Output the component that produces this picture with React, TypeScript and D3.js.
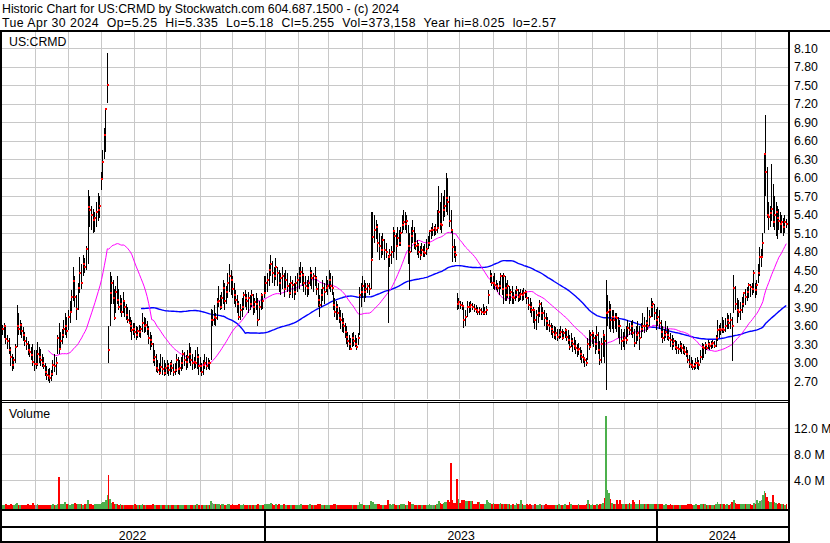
import React from "react";
import * as d3 from "d3";

const headerLine1 = "Historic Chart for US:CRMD by Stockwatch.com 604.687.1500 - (c) 2024";
const headerLine2 = "Tue Apr 30 2024  Op=5.25  Hi=5.335  Lo=5.18  Cl=5.255  Vol=373,158  Year hi=8.025  lo=2.57";
const symbolLabel = "US:CRMD";
const volumeLabel = "Volume";
const priceTicks = [2.7, 3.0, 3.3, 3.6, 3.9, 4.2, 4.5, 4.8, 5.1, 5.4, 5.7, 6.0, 6.3, 6.6, 6.9, 7.2, 7.5, 7.8, 8.1];
const volumeTicks = [4, 8, 12];
const yearLabels = ["2022", "2023", "2024"];

// daily bars grouped by month, May 2022 .. Apr 2024
const highs: number[][] = [
  [3.62,3.65,3.60,3.45,3.40,3.25,3.15,3.10,3.30,3.94,3.80,3.70,3.65,3.58,3.50,3.42,3.35,3.30,3.25,3.30,3.20],
  [3.20,3.34,3.26,3.22,3.15,3.10,2.99,2.95,2.90,2.92,2.88,3.05,3.15,3.10,3.45,3.64,3.50,3.55,3.70,3.80,3.75],
  [3.85,4.00,4.18,4.56,4.40,4.10,4.30,4.72,4.60,4.75,4.70,4.90,5.80,5.70,5.55,5.50,5.45,5.60,5.75,5.70],
  [6.10,6.45,6.80,7.13,8.02,3.59,4.48,4.40,4.35,4.20,4.25,4.40,4.20,4.10,4.05,4.15,4.02,3.95,3.90,3.85,3.75,3.70,3.65],
  [3.64,3.60,3.58,3.62,3.60,3.80,3.75,3.72,3.68,3.59,3.50,3.45,3.32,3.20,3.15,3.05,3.00,3.15,3.10,3.05,3.00],
  [3.05,3.00,3.02,3.05,2.98,3.00,3.15,3.10,3.05,3.10,3.21,3.18,3.12,3.20,3.32,3.25,3.15,3.10,3.20,3.26,3.15],
  [3.10,3.00,3.05,3.15,3.10,3.08,3.05,3.88,3.85,3.93,3.80,4.05,4.24,4.10,4.15,4.35,4.30,4.25,4.45,4.61,4.50],
  [4.40,4.30,4.18,4.10,4.00,3.95,4.05,4.15,4.18,4.12,4.15,4.10,4.18,4.12,4.05,4.13,4.05,4.00,4.13,4.10,4.40],
  [4.40,4.45,4.60,4.75,4.65,4.55,4.70,4.56,4.50,4.45,4.55,4.45,4.50,4.45,4.30,4.40,4.35,4.30,4.40,4.45],
  [4.55,4.64,4.55,4.45,4.40,4.35,4.40,4.56,4.50,4.45,4.55,4.40,4.29,4.10,4.20,4.34,4.30,4.40,4.35],
  [4.50,4.45,4.40,4.15,4.05,4.00,3.95,3.91,3.85,3.80,3.72,3.65,3.59,3.50,3.45,3.40,3.48,3.50,3.45,3.40,3.48,4.23,4.29],
  [4.40,4.35,4.30,4.29,4.30,5.45,5.45,5.40,5.32,5.25,5.10,5.05,5.10,5.00,4.95,4.75,4.85,4.90,5.20],
  [5.15,5.10,5.21,5.15,5.20,5.40,5.48,5.45,5.40,5.24,5.10,5.20,5.32,5.20,5.10,4.99,4.95,4.90,4.94,4.90,4.92,5.00],
  [5.05,5.15,5.20,5.26,5.22,5.25,5.48,5.86,5.60,5.75,5.70,5.80,6.07,6.00,5.70,5.48,5.13,5.00,4.90,4.13,4.05],
  [4.00,3.98,3.90,3.85,4.00,3.98,4.00,3.97,3.95,3.93,3.91,3.90,3.89,3.95,3.90,3.92,4.18,4.51,4.45],
  [4.40,4.45,4.35,4.30,4.32,4.45,4.42,4.45,4.40,4.30,4.35,4.25,4.20,4.24,4.15,4.18,4.24,4.20,4.15,4.20,4.18,4.21,4.18],
  [4.15,4.07,4.05,3.98,3.91,3.88,3.85,3.90,4.02,3.98,3.90,3.85,3.80,3.75,3.70,3.65,3.62,3.60,3.58,3.55],
  [3.55,3.59,3.55,3.52,3.57,3.55,3.53,3.45,3.48,3.40,3.42,3.37,3.30,3.32,3.26,3.20,3.15,3.10,3.08,3.40,3.53,3.50],
  [3.53,3.50,3.45,3.59,3.50,3.35,3.40,3.53,3.45,4.34,4.10,4.00,3.95,3.86,3.85,3.80,3.80,3.75,3.70,3.55,3.50],
  [3.55,3.59,3.69,3.65,3.68,3.69,3.55,3.60,3.67,3.60,3.65,3.80,3.75,3.70,3.91,3.85,4.05,4.00,3.95,3.88],
  [3.91,3.85,3.69,3.60,3.55,3.67,3.60,3.55,3.48,3.45,3.40,3.37,3.35,3.30,3.35,3.32,3.30,3.28,3.26,3.20,3.12],
  [3.10,3.05,3.00,3.08,3.10,3.05,3.20,3.32,3.30,3.34,3.30,3.37,3.33,3.35,3.37,3.36,3.45,3.69,3.62,3.65],
  [3.75,3.70,3.72,3.80,3.78,3.80,3.75,4.42,4.24,4.05,4.02,3.98,4.07,4.15,4.20,4.23,4.29,4.28,4.30,4.50],
  [4.30,4.35,4.60,4.88,4.85,5.10,6.40,7.02,6.17,5.60,5.55,6.23,5.90,5.70,5.60,5.55,5.50,5.45,5.40,5.35,5.40,5.335],
];
const lows: number[][] = [
  [3.45,3.40,3.30,3.22,3.15,2.95,2.86,2.90,3.00,3.26,3.45,3.45,3.40,3.35,3.28,3.20,3.12,3.10,3.05,2.95,2.86],
  [2.90,2.95,3.00,2.95,2.94,2.90,2.78,2.72,2.70,2.67,2.70,2.78,2.85,2.80,3.15,3.15,3.20,3.30,3.40,3.45,3.40],
  [3.54,3.65,3.80,4.00,3.90,3.70,3.85,4.13,4.20,4.40,4.45,4.50,4.60,5.20,5.15,5.10,5.12,5.20,5.30,5.35],
  [5.80,5.96,6.30,6.42,7.22,2.99,3.60,3.95,3.95,3.70,3.80,3.95,3.85,3.80,3.75,3.80,3.75,3.70,3.64,3.64,3.50,3.37,3.45],
  [3.40,3.37,3.40,3.42,3.40,3.50,3.48,3.50,3.45,3.30,3.21,3.25,3.00,2.95,2.85,2.83,2.80,2.85,2.80,2.78,2.80],
  [2.82,2.78,2.80,2.85,2.78,2.80,2.85,2.82,2.80,2.86,2.90,2.95,2.88,2.92,3.00,2.95,2.88,2.90,2.92,2.90,2.80],
  [2.85,2.78,2.80,2.90,2.88,2.90,2.88,3.04,3.60,3.62,3.59,3.70,3.90,3.86,3.88,3.95,3.86,3.95,4.05,4.15,4.10],
  [4.05,3.95,3.90,3.80,3.69,3.70,3.75,3.85,3.90,3.85,3.80,3.85,3.90,3.78,3.80,3.85,3.59,3.70,3.85,3.88,4.05],
  [4.13,4.15,4.25,4.40,4.30,4.24,4.35,4.25,4.15,4.10,4.20,4.07,4.20,4.15,4.05,4.10,4.05,4.02,4.10,4.15],
  [4.20,4.30,4.25,4.15,4.10,4.07,4.10,4.25,4.20,4.15,4.25,4.10,3.90,3.75,3.90,4.00,3.95,4.15,4.10],
  [4.20,4.15,4.10,3.85,3.75,3.70,3.69,3.65,3.55,3.50,3.48,3.40,3.30,3.25,3.21,3.20,3.25,3.28,3.25,3.21,3.29,3.45,3.90],
  [4.05,3.99,4.05,4.13,4.10,4.20,4.70,4.95,5.00,4.80,4.67,4.70,4.75,4.67,4.70,3.64,4.55,4.60,4.70],
  [4.80,4.67,4.90,4.89,4.90,5.10,5.15,5.15,5.10,4.60,4.18,4.80,4.95,4.85,4.83,4.75,4.70,4.67,4.75,4.72,4.72,4.75],
  [4.85,4.89,5.00,5.05,5.05,5.08,5.10,5.20,5.15,5.10,5.30,5.37,5.45,5.40,5.20,5.10,4.64,4.70,4.64,3.86,3.88],
  [3.88,3.85,3.56,3.60,3.75,3.80,3.82,3.85,3.82,3.80,3.78,3.78,3.78,3.78,3.77,3.78,3.96,4.29,4.25],
  [4.20,4.18,4.18,4.15,4.10,4.20,4.10,3.96,4.00,4.00,4.05,3.96,4.00,3.96,3.96,4.00,4.05,3.99,4.00,4.02,4.00,4.02,4.05],
  [3.95,3.85,3.80,3.75,3.65,3.55,3.53,3.65,3.75,3.70,3.69,3.60,3.53,3.53,3.50,3.45,3.40,3.38,3.37,3.35],
  [3.38,3.40,3.37,3.38,3.40,3.35,3.30,3.20,3.25,3.18,3.20,3.15,3.10,3.12,3.05,3.00,2.99,2.94,2.95,3.05,3.21,3.25],
  [3.30,3.25,3.15,3.20,3.15,2.96,3.00,3.10,2.99,2.56,3.60,3.55,3.50,3.55,3.48,3.55,3.50,3.40,3.30,3.21,3.25],
  [3.21,3.30,3.42,3.45,3.45,3.40,3.26,3.30,3.35,3.21,3.40,3.50,3.48,3.50,3.53,3.60,3.75,3.75,3.70,3.53],
  [3.60,3.55,3.40,3.32,3.35,3.40,3.37,3.35,3.25,3.21,3.25,3.20,3.15,3.15,3.18,3.15,3.15,3.12,3.10,3.00,2.91],
  [2.91,2.88,2.88,2.90,2.90,2.88,3.00,3.05,3.08,3.15,3.20,3.22,3.21,3.22,3.24,3.24,3.25,3.35,3.40,3.45],
  [3.48,3.48,3.50,3.55,3.55,3.55,3.03,3.80,3.85,3.64,3.75,3.70,3.80,3.90,3.94,4.00,4.05,4.07,4.10,4.13],
  [4.05,4.10,4.30,4.40,4.55,4.70,5.10,5.70,5.35,5.15,5.20,5.30,5.20,5.15,5.05,5.00,5.15,5.10,5.10,5.05,5.10,5.18],
];
const closes: number[][] = [
  [3.55,3.60,3.38,3.35,3.20,3.10,2.97,3.05,3.25,3.60,3.55,3.62,3.52,3.45,3.35,3.30,3.20,3.18,3.12,3.02,2.98],
  [2.98,3.15,3.10,3.05,3.00,2.95,2.85,2.80,2.78,2.75,2.82,2.97,2.95,3.00,3.40,3.22,3.35,3.45,3.55,3.60,3.52],
  [3.75,3.83,4.06,4.33,4.06,3.88,4.22,4.45,4.30,4.60,4.55,4.85,5.53,5.48,5.40,5.32,5.35,5.45,5.48,5.55],
  [5.98,6.25,6.70,7.12,7.50,3.20,4.13,4.30,4.05,3.72,4.15,4.02,3.91,3.95,3.83,4.00,3.91,3.78,3.70,3.64,3.60,3.53,3.55],
  [3.50,3.45,3.52,3.50,3.55,3.64,3.59,3.62,3.55,3.40,3.37,3.30,3.05,3.10,2.92,2.88,2.83,2.94,2.90,2.83,2.92],
  [2.95,2.88,2.98,2.92,2.85,2.88,3.05,2.90,2.92,3.00,3.15,3.05,3.02,3.10,3.15,3.05,3.00,3.02,3.00,3.10,2.95],
  [2.95,2.85,2.97,3.00,2.95,3.00,2.99,3.70,3.70,3.75,3.72,3.98,4.00,3.90,4.05,4.21,4.00,4.15,4.29,4.40,4.35],
  [4.20,4.10,4.02,3.95,3.75,3.85,3.90,4.10,4.05,4.00,4.05,3.95,4.10,3.91,3.98,3.96,3.70,3.90,4.10,4.00,4.13],
  [4.30,4.35,4.50,4.61,4.45,4.40,4.55,4.45,4.30,4.37,4.40,4.20,4.34,4.25,4.13,4.30,4.26,4.15,4.30,4.35],
  [4.40,4.48,4.42,4.29,4.25,4.21,4.30,4.45,4.37,4.40,4.37,4.20,4.02,3.94,4.10,4.21,4.15,4.21,4.25],
  [4.35,4.25,4.21,3.94,3.83,3.90,3.80,3.72,3.70,3.64,3.60,3.50,3.42,3.35,3.30,3.22,3.40,3.35,3.30,3.26,3.40,4.10,4.15],
  [4.24,4.15,4.20,4.24,4.20,4.67,5.04,5.15,5.20,4.94,4.90,4.83,4.99,4.83,4.80,4.72,4.75,4.80,5.13],
  [5.05,4.90,5.02,4.94,5.10,5.24,5.29,5.25,5.30,4.89,4.80,5.05,5.13,4.95,4.89,4.91,4.80,4.75,4.83,4.80,4.78,4.85],
  [4.95,5.14,5.15,5.15,5.18,5.15,5.18,5.45,5.25,5.24,5.48,5.55,5.67,5.60,5.30,5.15,4.87,4.80,4.75,3.96,3.98],
  [3.94,3.92,3.69,3.75,3.91,3.90,3.93,3.91,3.88,3.85,3.83,3.85,3.82,3.80,3.82,3.85,4.10,4.40,4.29],
  [4.30,4.26,4.24,4.22,4.24,4.41,4.20,4.40,4.21,4.10,4.25,4.10,4.15,4.07,4.05,4.10,4.18,4.07,4.10,4.12,4.10,4.13,4.15],
  [4.05,3.94,3.90,3.85,3.85,3.70,3.78,3.80,3.96,3.80,3.80,3.72,3.67,3.62,3.60,3.55,3.50,3.45,3.48,3.42],
  [3.45,3.50,3.40,3.48,3.53,3.42,3.37,3.26,3.35,3.30,3.28,3.24,3.20,3.22,3.15,3.10,3.07,3.05,3.00,3.30,3.25,3.45],
  [3.48,3.40,3.30,3.45,3.21,3.05,3.30,3.45,3.35,3.80,3.82,3.85,3.69,3.75,3.70,3.75,3.72,3.60,3.59,3.35,3.37],
  [3.40,3.37,3.56,3.53,3.60,3.48,3.32,3.45,3.48,3.40,3.55,3.60,3.59,3.65,3.59,3.75,3.91,3.95,3.80,3.70],
  [3.75,3.65,3.50,3.40,3.45,3.50,3.45,3.40,3.37,3.30,3.35,3.26,3.24,3.22,3.28,3.24,3.20,3.18,3.15,3.05,2.98],
  [2.97,2.94,2.95,3.00,2.99,2.96,3.10,3.26,3.24,3.29,3.24,3.30,3.27,3.30,3.32,3.28,3.40,3.53,3.55,3.53],
  [3.55,3.53,3.60,3.70,3.65,3.70,3.60,4.21,3.95,3.86,3.83,3.85,3.95,4.13,4.07,4.15,4.26,4.23,4.20,4.45],
  [4.18,4.26,4.45,4.72,4.72,4.95,6.38,6.10,5.40,5.37,5.43,5.50,5.29,5.40,5.45,5.35,5.30,5.25,5.28,5.20,5.28,5.255],
];
// volume in millions of shares
const volumes: number[][] = [
  [0.25,0.2,0.3,0.25,0.2,0.3,0.2,0.25,0.3,0.55,0.25,0.2,0.2,0.15,0.25,0.2,0.3,0.2,0.2,0.45,0.25],
  [0.2,0.3,0.2,0.25,0.2,0.15,0.2,0.25,0.2,0.2,0.2,0.3,0.2,0.25,0.4,4.55,0.3,0.3,0.4,0.6,0.35],
  [0.3,0.25,0.35,0.4,0.55,0.3,0.35,0.3,0.3,0.25,0.3,0.4,0.9,0.35,0.3,0.25,0.3,0.35,0.3,0.4],
  [0.5,0.6,0.7,0.9,1.7,4.8,1.1,0.5,0.7,0.4,0.35,0.3,0.25,0.3,0.25,0.2,0.2,0.25,0.2,0.2,0.15,0.2,0.2],
  [0.3,0.25,0.2,0.2,0.25,0.3,0.2,0.2,0.2,0.25,0.2,0.2,0.3,0.2,0.25,0.2,0.2,0.25,0.2,0.2,0.2],
  [0.2,0.15,0.2,0.2,0.15,0.2,0.25,0.2,0.15,0.2,0.25,0.2,0.2,0.2,0.25,0.2,0.15,0.2,0.2,0.3,0.2],
  [0.2,0.2,0.15,0.2,0.15,0.2,0.2,0.8,0.45,0.4,0.3,0.35,0.3,0.25,0.3,0.3,0.25,0.2,0.3,0.35,0.25],
  [0.3,0.25,0.2,0.25,0.3,0.2,0.2,0.3,0.2,0.2,0.25,0.2,0.2,0.25,0.2,0.2,0.3,0.2,0.25,0.2,0.35],
  [0.35,0.3,0.4,0.45,0.3,0.25,0.3,0.25,0.3,0.2,0.25,0.3,0.2,0.2,0.25,0.2,0.2,0.25,0.2,0.2],
  [0.25,0.3,0.2,0.2,0.2,0.25,0.2,0.3,0.2,0.2,0.2,0.25,0.3,0.3,0.2,0.25,0.2,0.2,0.2],
  [0.25,0.2,0.2,0.35,0.3,0.2,0.2,0.25,0.2,0.2,0.2,0.25,0.2,0.2,0.2,0.25,0.2,0.2,0.2,0.2,0.2,0.7,0.4],
  [0.3,0.25,0.2,0.2,0.2,0.8,0.6,0.4,0.3,0.3,0.3,0.25,0.25,0.2,0.2,0.97,0.3,0.25,0.35],
  [0.3,0.25,0.25,0.2,0.3,0.35,0.3,0.25,0.25,0.8,0.7,0.4,0.3,0.25,0.2,0.2,0.2,0.2,0.2,0.25,0.2,0.2],
  [0.2,0.3,0.25,0.2,0.2,0.2,0.3,0.8,0.5,0.4,0.5,0.6,0.7,0.97,0.6,6.7,0.97,0.5,0.5,4.15,1.05],
  [0.5,1.0,1.0,0.8,0.8,0.8,0.8,0.8,0.3,0.3,0.7,0.7,0.3,0.3,0.3,1.0,0.6,0.5,0.4],
  [0.5,0.4,0.3,0.3,0.3,0.5,0.3,0.4,0.3,0.3,0.3,0.3,0.25,0.3,0.3,0.2,0.5,0.3,0.3,0.9,0.3,0.2,0.25],
  [0.3,0.25,0.3,0.2,0.2,0.3,0.25,0.2,0.3,0.25,0.2,0.2,0.3,0.2,0.2,0.2,0.25,0.2,0.2,0.2],
  [0.3,0.2,0.25,0.2,0.3,0.2,0.25,0.7,0.3,0.2,0.25,0.2,0.2,0.3,0.2,0.25,0.2,0.2,0.3,0.9,0.3,0.25],
  [0.3,0.25,0.2,0.3,0.25,0.4,0.3,0.5,1.23,13.9,2.5,2.0,1.2,0.5,0.3,0.4,0.9,0.3,0.9,0.3,0.3],
  [0.3,0.4,0.3,0.5,0.3,0.9,0.6,0.3,0.3,0.9,0.3,0.3,0.3,0.3,0.3,0.3,0.4,0.3,0.3,0.3],
  [0.4,0.3,0.3,0.3,0.2,0.3,0.25,0.2,0.3,0.25,0.2,0.2,0.25,0.2,0.2,0.25,0.2,0.2,0.2,0.3,0.3],
  [0.3,0.25,0.2,0.3,0.2,0.2,0.3,0.4,0.3,0.3,0.2,0.25,0.2,0.2,0.25,0.2,0.3,0.6,0.4,0.3],
  [0.3,0.3,0.25,0.3,0.25,0.3,0.6,0.9,0.5,0.4,0.3,0.3,0.3,0.4,0.3,0.35,0.3,0.3,0.25,0.5],
  [0.35,0.9,0.5,0.8,0.9,1.7,2.35,2.1,1.4,0.85,0.6,0.7,1.8,0.6,0.5,0.4,0.5,0.3,0.4,0.3,0.25,0.373],
];

const FAST_MA = 30;
const SLOW_MA = 90;

const W = 830;
const H = 543;
const plotL = 2;
const plotR = 788;
const priceTop = 32;
const priceBottom = 399;
const volTop = 403;
const volBottom = 509;
const font = "'Liberation Sans', Arial, sans-serif";
const gridColor = "#c8c8c8";

type Day = { x: number; w: number; h: number; l: number; c: number; v: number; prev: number | null };

export default function App() {
  const monthStarts = d3.timeMonth.range(new Date(2022, 4, 1), new Date(2024, 4, 2));
  const x = d3.scaleTime().domain([monthStarts[0], monthStarts[monthStarts.length - 1]]).range([plotL, 787]);
  const y = d3.scaleLinear().domain([2.7, 8.1]).range([381.3, 48.3]);
  const yv = d3.scaleLinear().domain([0, 12]).range([506.3, 428.3]);

  const days: Day[] = [];
  closes.forEach((mc, m) => {
    const band = d3.scaleBand<number>().domain(d3.range(mc.length)).range([x(monthStarts[m]), x(monthStarts[m + 1])]);
    mc.forEach((c, j) => {
      const prev = days.length ? days[days.length - 1].c : null;
      days.push({
        x: (band(j) as number) + band.bandwidth() / 2,
        w: band.bandwidth(),
        h: highs[m][j] ?? c,
        l: lows[m][j] ?? c,
        c,
        v: volumes[m][j] ?? 0.2,
        prev,
      });
    });
  });

  const sma = (n: number) =>
    days.map((d, i) => (i < n - 1 ? null : (d3.mean(days.slice(i - n + 1, i + 1), (e) => e.c) as number)));
  const fast = sma(FAST_MA);
  const slow = sma(SLOW_MA);
  const maLine = (vals: (number | null)[]) =>
    d3
      .line<number>()
      .defined((i) => vals[i] != null)
      .x((i) => days[i].x)
      .y((i) => y(vals[i] as number))(d3.range(days.length)) || "";

  const yearStarts = [new Date(2023, 0, 1), new Date(2024, 0, 1)];
  const yearBounds = [0, ...yearStarts.map((d) => x(d)), plotR];
  const fmtP = d3.format(".2f");
  const fmtV = d3.format(".1f");

  return (
    <svg width={W} height={H} style={{ position: "absolute", left: 0, top: 0, background: "#fff" }} fontFamily={font}>
      <rect x={0} y={0} width={W} height={H} fill="#fff" />
      {/* header */}
      <text x={2} y={12.7} fontSize={12.3} fill="#000" xmlSpace="preserve" style={{ whiteSpace: "pre" }}>{headerLine1}</text>
      <text x={2} y={27.3} fontSize={12.3} fill="#000" xmlSpace="preserve" style={{ whiteSpace: "pre" }} textLength={554} lengthAdjust="spacing">{headerLine2}</text>

      {/* gridlines */}
      <g stroke={gridColor} strokeWidth={1} shapeRendering="crispEdges">
        {monthStarts.slice(1, -1).map((d, i) => (
          <g key={"vg" + i}>
            <line x1={Math.round(x(d)) + 0.5} x2={Math.round(x(d)) + 0.5} y1={priceTop} y2={priceBottom} />
            <line x1={Math.round(x(d)) + 0.5} x2={Math.round(x(d)) + 0.5} y1={volTop} y2={volBottom} />
          </g>
        ))}
        {priceTicks.map((t) => (
          <line key={"hg" + t} x1={plotL} x2={plotR} y1={Math.round(y(t)) + 0.5} y2={Math.round(y(t)) + 0.5} />
        ))}
        {volumeTicks.map((t) => (
          <line key={"vgv" + t} x1={plotL} x2={plotR} y1={Math.round(yv(t)) + 0.5} y2={Math.round(yv(t)) + 0.5} />
        ))}
      </g>

      {/* moving averages */}
      <path d={maLine(slow)} fill="none" stroke="#0000ff" strokeWidth={1.4} />
      <path d={maLine(fast)} fill="none" stroke="#ff00ff" strokeWidth={1} />

      {/* price bars */}
      <g shapeRendering="crispEdges">
        {days.map((d, i) => (
          <rect key={"b" + i} x={Math.floor(d.x)} y={y(d.h)} width={1} height={Math.max(1, y(d.l) - y(d.h))} fill="#000" />
        ))}
        {days.map((d, i) => (
          <rect key={"c" + i} x={Math.floor(d.x)} y={Math.round(y(d.c)) - 1} width={2} height={2} fill="#ff0000" />
        ))}
      </g>

      {/* volume bars */}
      <g shapeRendering="crispEdges">
        {days.map((d, i) => (
          <rect
            key={"v" + i}
            x={d.x - d.w / 2}
            y={yv(d.v)}
            width={d.w}
            height={volBottom - yv(d.v)}
            fill={d.prev == null || d.c > d.prev ? "#4cb04c" : d.c < d.prev ? "#ff0000" : "#8c8c8c"}
          />
        ))}
      </g>

      {/* labels in panels */}
      <text x={9} y={46} fontSize={12.3} fill="#000">{symbolLabel}</text>
      <text x={9} y={418.3} fontSize={12.3} fill="#000">{volumeLabel}</text>

      {/* right axis */}
      {priceTicks.map((t) => (
        <text key={"pt" + t} x={794} y={y(t) + 4.4} fontSize={12.3} fill="#000">{fmtP(t)}</text>
      ))}
      {volumeTicks.map((t) => (
        <text key={"vt" + t} x={794} y={yv(t) + 4.4} fontSize={12.3} fill="#000">{fmtV(t) + " M"}</text>
      ))}

      {/* frame */}
      <g fill="#000" shapeRendering="crispEdges">
        <rect x={0} y={30} width={W} height={2} />
        <rect x={0} y={30} width={2} height={H - 30} />
        <rect x={plotR} y={30} width={2} height={H - 30} />
        <rect x={0} y={400} width={plotR} height={1} />
        <rect x={0} y={402} width={plotR} height={1} />
        <rect x={0} y={509} width={plotR} height={2} />
        <rect x={0} y={526} width={plotR} height={2} />
        <rect x={0} y={541} width={plotR + 2} height={2} />
        {yearStarts.map((d, i) => (
          <rect key={"ys" + i} x={Math.round(x(d)) - 1} y={511} width={2} height={30} />
        ))}
      </g>

      {/* years */}
      {yearLabels.map((lab, i) => (
        <text key={lab} x={(yearBounds[i] + yearBounds[i + 1]) / 2} y={540} fontSize={12.3} textAnchor="middle" fill="#000">
          {lab}
        </text>
      ))}
    </svg>
  );
}
